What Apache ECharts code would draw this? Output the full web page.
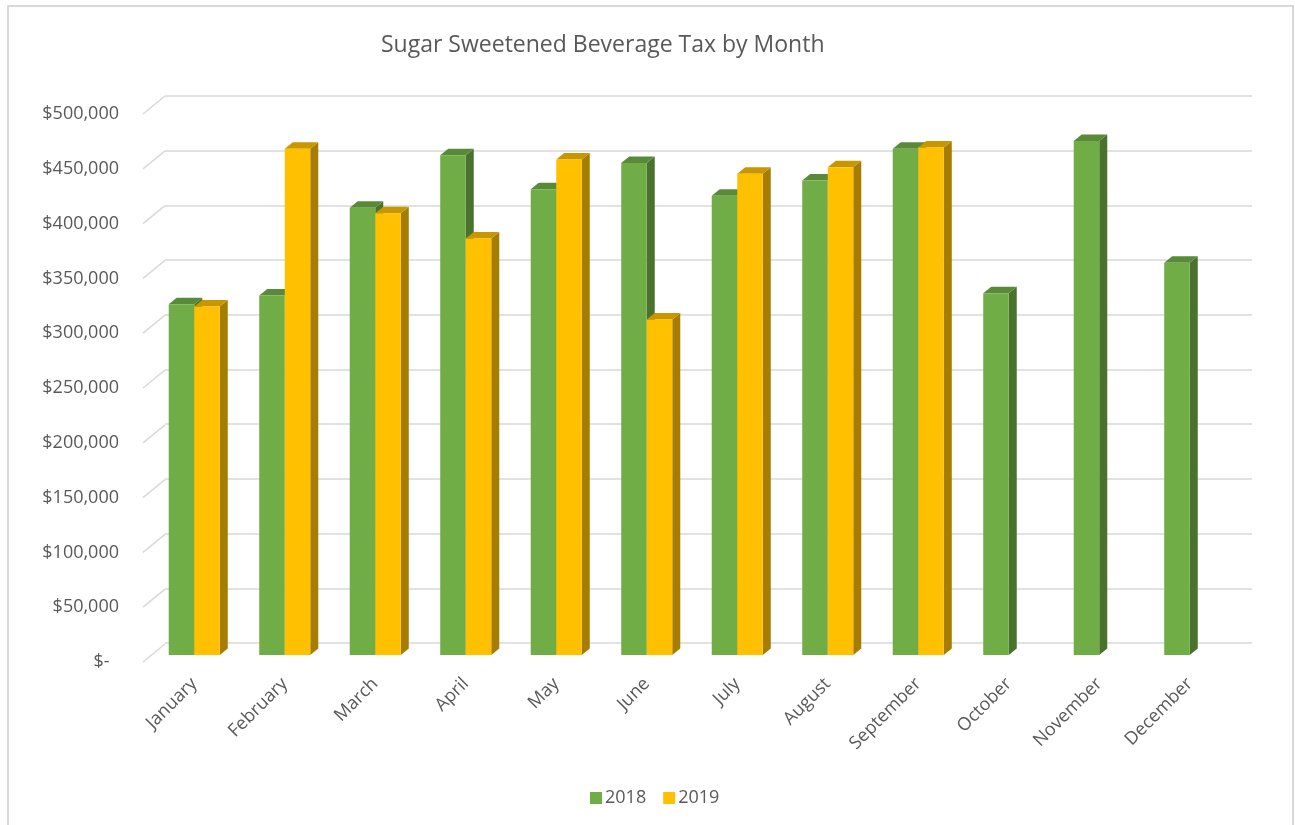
<!DOCTYPE html>
<html>
<head>
<meta charset="utf-8">
<script src="https://cdn.jsdelivr.net/npm/echarts@6/dist/echarts.min.js"></script>
<style>html,body{margin:0;padding:0;background:#fff;}#c{width:1295px;height:825px;}</style>
</head>
<body>
<div id="c"></div>
<script>
var months = ['January','February','March','April','May','June','July','August','September','October','November','December'];
var tax2018 = [320000, 328000, 408000, 456000, 425000, 449000, 419000, 433000, 462000, 330000, 469000, 358000];
var tax2019 = [318000, 462000, 403000, 380000, 452000, 306000, 439000, 445000, 463000, null, null, null];
var yTicks = [0, 50000, 100000, 150000, 200000, 250000, 300000, 350000, 400000, 450000, 500000];

var FONT = 'Open Sans';
var TXT = '#595959';

function bar3D(side, faceCol, topCol, sideCol) {
  return function (params, api) {
    var cat = api.value(0), v = api.value(1);
    if (v == null || isNaN(v)) return null;
    var topPt = api.coord([cat, v]);
    var basePt = api.coord([cat, 0]);
    var band = api.size([1, 0])[0];
    var w = band * 0.282;
    var x0 = side === 0 ? topPt[0] - w : topPt[0];
    var x1 = x0 + w;
    var yt = topPt[1], yb = basePt[1];
    var dx = 8, dy = -6.5;
    return {
      type: 'group',
      children: [
        {type: 'polygon', shape: {points: [[x1, yt], [x1 + dx, yt + dy], [x1 + dx, yb + dy], [x1, yb]]}, style: {fill: sideCol}},
        {type: 'polygon', shape: {points: [[x0, yt], [x1, yt], [x1 + dx, yt + dy], [x0 + dx, yt + dy]]}, style: {fill: topCol}},
        {type: 'rect', shape: {x: x0, y: yt, width: w, height: yb - yt}, style: {fill: faceCol}}
      ]
    };
  };
}

var d2018 = tax2018.map(function (v, i) { return [i, v]; });
var d2019 = [];
tax2019.forEach(function (v, i) { if (v != null) d2019.push([i, v]); });

var chart = echarts.init(document.getElementById('c'), null, {renderer: 'canvas'});
chart.setOption({
  animation: false,
  backgroundColor: '#fff',
  textStyle: {fontFamily: FONT},
  graphic: [{type: 'rect', shape: {x: 8, y: 6, width: 1285, height: 840}, style: {fill: 'none', stroke: '#d9d9d9', lineWidth: 2}, silent: true, z: -10}],
  title: {text: 'Sugar Sweetened Beverage Tax by Month', left: 376, top: 29, textStyle: {fontFamily: FONT, fontSize: 23, fontWeight: 'normal', color: TXT}},
  legend: {
    left: 585, top: 784, itemWidth: 12, itemHeight: 12, itemGap: 17, icon: 'rect',
    textStyle: {fontFamily: FONT, fontSize: 18, color: TXT, padding: [0, 0, 0, -2]},
    data: ['2018', '2019']
  },
  grid: [
    {left: 149, width: 1086, top: 107, height: 548},
    {left: 165, right: 43, top: 96, height: 547},
    {left: 143, width: 22, top: 114, height: 548}
  ],
  xAxis: [
    {gridIndex: 0, type: 'category', data: months, axisLine: {show: false}, axisTick: {show: false},
      axisLabel: {interval: 0, rotate: 45, margin: 26, color: TXT, fontSize: 18, fontFamily: FONT}},
    {gridIndex: 1, type: 'value', min: 0, max: 1, show: false},
    {gridIndex: 2, type: 'value', min: 0, max: 1, show: false}
  ],
  yAxis: [
    {gridIndex: 0, type: 'value', min: 0, max: 500000, interval: 50000, show: false},
    {gridIndex: 1, type: 'value', min: 0, max: 500000, interval: 50000, axisLine: {show: false}, axisTick: {show: false}, axisLabel: {show: false},
      splitLine: {show: true, lineStyle: {color: '#d9d9d9', width: 1.5}}},
    {gridIndex: 2, type: 'value', min: 0, max: 500000, interval: 50000, axisLine: {show: false}, axisTick: {show: false}, splitLine: {show: false},
      axisLabel: {margin: 24, color: TXT, fontSize: 18, fontFamily: FONT,
        formatter: function (v) { return v === 0 ? '$-  ' : '$' + v.toLocaleString('en-US'); }}}
  ],
  series: [
    {
      type: 'custom', name: 'diag', xAxisIndex: 2, yAxisIndex: 2, silent: true,
      data: yTicks.map(function (v) { return [0, v]; }),
      renderItem: function (params, api) {
        var p = api.coord([0, api.value(1)]);
        return {type: 'line', shape: {x1: p[0], y1: p[1], x2: p[0] + 22, y2: p[1] - 18}, style: {stroke: '#d9d9d9', lineWidth: 1.5}};
      }
    },
    {
      type: 'custom', name: '2018', xAxisIndex: 0, yAxisIndex: 0, data: d2018,
      itemStyle: {color: '#70AD47'}, encode: {x: 0, y: 1},
      renderItem: bar3D(0, '#70AD47', '#588a38', '#4a712d')
    },
    {
      type: 'custom', name: '2019', xAxisIndex: 0, yAxisIndex: 0, data: d2019,
      itemStyle: {color: '#FFC000'}, encode: {x: 0, y: 1},
      renderItem: bar3D(1, '#FFC000', '#c89700', '#a67d00')
    }
  ]
});
</script>
</body>
</html>
